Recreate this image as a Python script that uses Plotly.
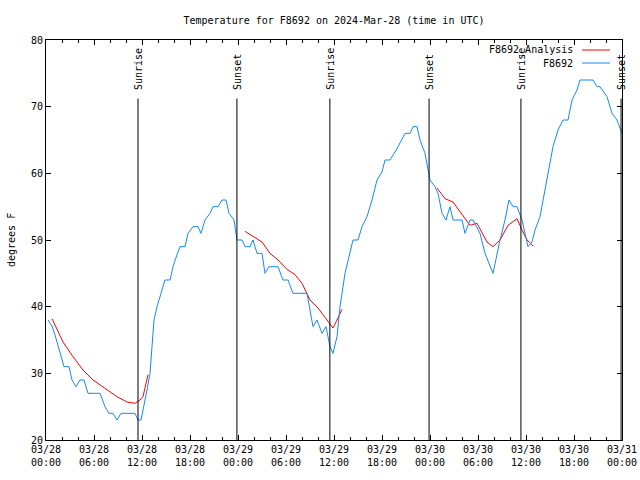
import pandas as pd
import plotly.graph_objects as go

START = pd.Timestamp("2024-03-28 00:00")

# Observed F8692 (hours since 03/28 00:00 UTC, degrees F)
obs_hours = [0.25, 0.75, 1.125, 1.625, 2, 2.25, 2.875, 3.25, 3.75, 4.25, 4.75, 5.25, 6.75,
             7.375, 7.875, 8.375, 8.875, 9.375, 11.125, 11.5, 11.875, 12.25, 12.625, 13,
             13.25, 13.5, 13.875, 14.25, 14.875, 15.5, 15.875, 16.375, 16.75, 17.375, 17.75,
             18.375, 19, 19.375, 19.875, 20.5, 20.875, 21.5, 22, 22.5, 22.875, 23.5, 23.875,
             24.5, 24.875, 25.5, 25.875, 26.375, 27, 27.375, 27.875, 29, 29.625, 30.25,
             30.875, 32.625, 33, 33.375, 33.875, 34.5, 35, 35.5, 35.875, 36.375, 36.75,
             37.375, 37.875, 38.375, 39, 39.5, 40.125, 40.75, 41.375, 42, 42.375, 43, 43.875,
             44.875, 45.5, 45.875, 46.375, 46.75, 47.375, 48, 48.625, 49, 49.5, 50, 50.5,
             50.875, 52, 52.375, 53, 53.375, 54.25, 54.875, 55.875, 56.75, 57.375, 57.875,
             58.375, 58.875, 59.5, 60.25, 60.75, 61.125, 61.75, 62.125, 62.75, 63.375, 64,
             64.625, 65.25, 65.75, 66.375, 66.75, 68.375, 68.875, 69.25, 70.125, 70.75,
             71.375, 72]
obs_temp = [38, 37.1, 35.75, 33.5, 32, 31, 31, 29, 28, 29, 29, 27, 27,
            25, 24, 24, 23, 24, 24, 23, 23, 25, 27.5, 30,
            34, 38, 40, 41.5, 44, 44, 46, 47.8, 49, 49, 51,
            52, 52, 51, 53, 54, 55, 55, 56, 56, 54, 53, 50,
            50, 49, 49, 50, 48, 48, 45, 46, 46, 44, 44,
            42, 42, 39.5, 37, 38, 36, 37, 34, 33, 35.5, 40,
            45, 47.5, 50, 50, 52, 53.5, 56, 59, 60.2, 62, 62, 63.7,
            66, 66, 67, 67, 65, 63, 59, 58, 57, 54, 53, 55,
            53, 53, 51, 53, 53, 51, 48, 45, 50, 53, 56,
            55, 55, 53, 49, 49.7, 51.5, 53.5, 56, 60, 64, 66.5,
            68, 68, 71, 72.5, 74, 74, 73, 73, 71.5, 69,
            68, 66]

# Analysis F8692_Analysis (None separates the three analysis runs)
ana_hours = [0.75, 1.375, 2.125, 3.375, 4.625, 5.875, 7.125, 8.875, 10.125, 11.125, 11.75, 12.125, 12.75,
             None,
             24.875, 25.875, 27, 28, 29, 30.125, 31.125, 32, 33, 34, 35.125, 35.875, 36.375, 37,
             None,
             48.875, 49.875, 50.875, 51.75, 52.625, 53, 53.875, 55.125, 55.875, 56.75, 57.75,
             58.875, 59.5, 60.125, 60.5, 60.875]
ana_temp = [38.2, 36.5, 34.7, 32.5, 30.5, 29, 28, 26.5, 25.7, 25.5, 26, 26.5, 29.8,
            None,
            51.3, 50.5, 49.7, 48, 47, 45.6, 44.8, 43.5, 41, 39.8, 38, 36.8, 38, 39.6,
            None,
            57.8, 56.2, 55.7, 54.2, 52.7, 52.2, 52.5, 49.7, 49, 50, 52.2,
            53.2, 51.5, 50, 49.6, 49.1]

# Sun events
sun_labels = ["Sunrise", "Sunset", "Sunrise", "Sunset", "Sunrise", "Sunset"]
sun_times = ["2024-03-28 11:30", "2024-03-28 23:52", "2024-03-29 11:29",
             "2024-03-29 23:53", "2024-03-30 11:22", "2024-03-30 23:53"]

tick_times = pd.date_range("2024-03-28 00:00", "2024-03-31 00:00", freq="6h")
tick_labels = ["03/28<br>00:00", "03/28<br>06:00", "03/28<br>12:00", "03/28<br>18:00",
               "03/29<br>00:00", "03/29<br>06:00", "03/29<br>12:00", "03/29<br>18:00",
               "03/30<br>00:00", "03/30<br>06:00", "03/30<br>12:00", "03/30<br>18:00",
               "03/31<br>00:00"]

FONT = "DejaVu Sans Mono"
RED = "#ff0000"
BLUE = "#1489f5"

W, H = 640, 480
PL, PR, PT, PB = 46, 622, 40, 440  # plot area in window pixels


def to_time(hs):
    return [None if h is None else START + pd.Timedelta(hours=h) for h in hs]


def px_x(x):
    return (x - PL) / (PR - PL)


def px_y(y):
    return 1 - (y - PT) / (PB - PT)


fig = go.Figure()
fig.add_trace(go.Scatter(x=to_time(ana_hours), y=ana_temp, mode="lines",
                         line=dict(color=RED, width=1), name="F8692_Analysis",
                         connectgaps=False))
fig.add_trace(go.Scatter(x=to_time(obs_hours), y=obs_temp, mode="lines",
                         line=dict(color=BLUE, width=1), name="F8692"))

for lab, t in zip(sun_labels, sun_times):
    fig.add_shape(type="line", xref="x", yref="y", x0=t, x1=t, y0=20, y1=71.2,
                  line=dict(color="black", width=1))
    fig.add_annotation(x=t, y=72.2, xref="x", yref="y", text=lab, textangle=-90,
                       showarrow=False, xanchor="center", yanchor="bottom",
                       font=dict(family=FONT, size=10, color="black"))

# legend (gnuplot style: text then sample)
leg = [("F8692_Analysis", RED, 50), ("F8692", BLUE, 63)]
for txt, col, ypx in leg:
    yp = px_y(ypx)
    fig.add_annotation(x=px_x(575), y=yp, xref="paper", yref="paper", text=txt,
                       showarrow=False, xanchor="right", yanchor="middle",
                       font=dict(family=FONT, size=10, color="black"))
    fig.add_shape(type="line", xref="paper", yref="paper",
                  x0=px_x(582), x1=px_x(610), y0=yp, y1=yp,
                  line=dict(color=col, width=1))

fig.add_annotation(x=px_x(11), y=0.5, xref="paper", yref="paper", text="degrees F",
                   textangle=-90, showarrow=False, xanchor="center", yanchor="middle",
                   font=dict(family=FONT, size=10, color="black"))

fig.update_layout(
    width=W, height=H,
    margin=dict(l=PL, r=W - PR, t=PT, b=H - PB, autoexpand=False),
    paper_bgcolor="white", plot_bgcolor="white",
    showlegend=False,
    title=dict(text="Temperature for F8692 on 2024-Mar-28 (time in UTC)",
               x=((PL + PR) / 2) / W, xanchor="center",
               y=1 - 20 / H, yanchor="middle",
               xref="container", yref="container",
               font=dict(family=FONT, size=10, color="black")),
    font=dict(family=FONT, size=10, color="black"),
)
fig.update_xaxes(type="date", range=["2024-03-28 00:00", "2024-03-31 00:00"],
                 tickvals=list(tick_times), ticktext=tick_labels,
                 ticks="inside", ticklen=5, tickcolor="black", tickwidth=1,
                 minor=dict(dtick=2 * 3600 * 1000, ticks="inside", ticklen=3,
                            tickcolor="black", showgrid=False),
                 showline=True, linecolor="black", linewidth=1, mirror="ticks",
                 showgrid=False, zeroline=False,
                 tickfont=dict(family=FONT, size=10, color="black"))
fig.update_yaxes(range=[20, 80], dtick=10, tick0=20,
                 ticks="inside", ticklen=5, tickcolor="black", tickwidth=1,
                 showline=True, linecolor="black", linewidth=1, mirror="ticks",
                 showgrid=False, zeroline=False,
                 tickfont=dict(family=FONT, size=10, color="black"))

fig.write_html("out.html",
               config={"displayModeBar": False},
               post_script="document.body.style.margin='0';"
                           "document.body.style.overflow='hidden';")
